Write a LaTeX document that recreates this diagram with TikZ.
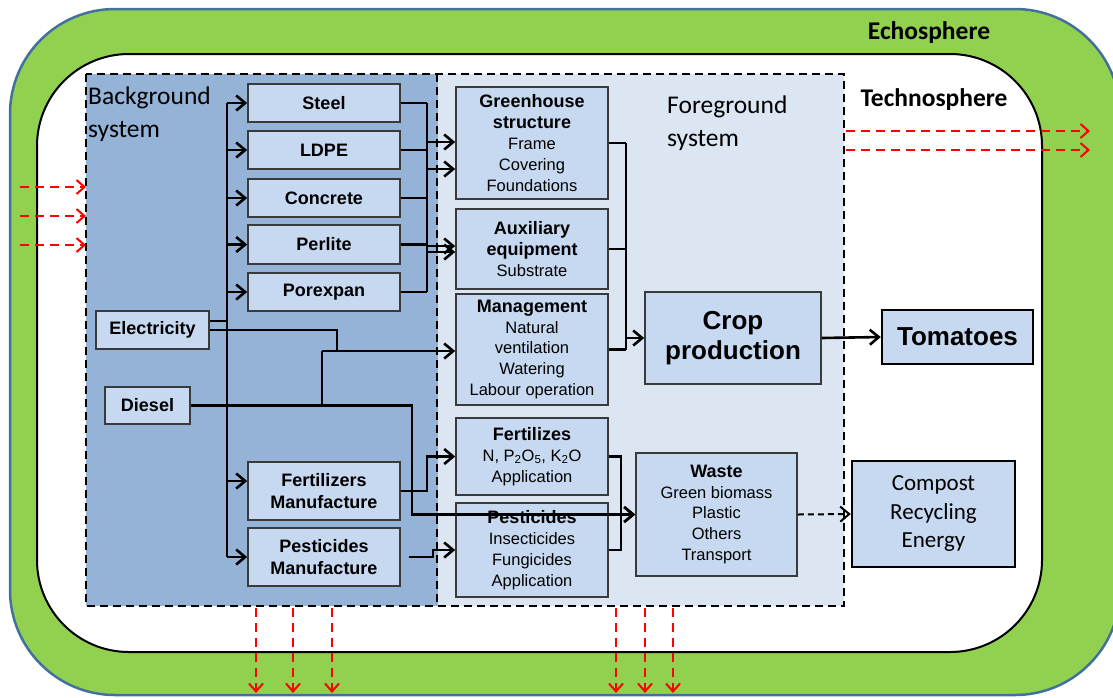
\documentclass[tikz,border=0pt]{standalone}
\usepackage{fontspec}
\setmainfont{Liberation Sans}
\newfontfamily\calibfont{Carlito}
\usetikzlibrary{arrows.meta}
\definecolor{ecogreen}{HTML}{92D050}
\definecolor{ecoedge}{HTML}{41719C}
\definecolor{bgblue}{HTML}{95B3D7}
\definecolor{fgblue}{HTML}{DCE6F2}
\definecolor{boxblue}{HTML}{C6D9F1}
\definecolor{boxedge}{HTML}{3A3A3A}
\newcommand{\hl}[1]{{\fontsize{18}{20.8}\selectfont\bfseries #1}}
\tikzset{
  blk/.style={draw=boxedge, fill=boxblue, line width=1.6pt, align=center, inner sep=0pt,
    font=\fontsize{16.5}{20.8}\selectfont},
  mat/.style={blk, minimum width=152pt, font=\fontsize{18}{21.5}\selectfont\bfseries},
  ln/.style={line width=2.6pt},
  flow/.style={ln, -{Straight Barb[length=9pt,width=15pt]}},
  emis/.style={red, line width=2pt, dash pattern=on 9pt off 6pt, -{Straight Barb[length=8pt,width=14pt]}},
  sysbox/.style={line width=2.4pt, dash pattern=on 8pt off 5pt},
  sphere/.style={font=\calibfont\bfseries\fontsize{25.5}{30}\selectfont}
}
\begin{document}
\begin{tikzpicture}[x=1pt,y=-1pt]
  \useasboundingbox (0,0) rectangle (1113,697);
  % spheres
  \draw[fill=ecogreen, draw=ecoedge, line width=2.5pt, rounded corners=105pt] (10,9) rectangle (1120,695);
  \draw[fill=white, line width=2pt, rounded corners=92pt] (37,54) rectangle (1042,652);
  \node[sphere, anchor=base] (echo) at (929,39) {Echosphere};
  \node[sphere, anchor=base west] (techno) at (857,106) {Technosphere};
  % systems
  \fill[bgblue] (86,74) rectangle (438,606);
  \fill[fgblue] (438,74) rectangle (844,606);
  \draw[sysbox] (86,74) rectangle (844,606);
  \draw[sysbox] (437,74) -- (437,606);
  \node[anchor=north west, align=left, inner sep=0pt, font=\calibfont\fontsize{25.5}{32.5}\selectfont] (bglabel) at (88,87) {Background\\system};
  \node[anchor=north west, align=left, inner sep=0pt, font=\calibfont\fontsize{25.5}{32.5}\selectfont] (fglabel) at (667,96) {Foreground\\system};

  % background processes
  \node[mat, minimum height=38pt] (steel) at (324,103) {Steel};
  \node[mat, minimum height=38pt] (ldpe) at (324,150) {LDPE};
  \node[mat, minimum height=38pt] (concrete) at (324,198) {Concrete};
  \node[mat, minimum height=39pt] (perlite) at (324,244.5) {Perlite};
  \node[mat, minimum height=38pt] (porexpan) at (324,292) {Porexpan};
  \node[mat, minimum width=113pt, minimum height=38pt] (elec) at (152.5,330) {Electricity};
  \node[mat, minimum width=85pt, minimum height=37pt] (diesel) at (147.5,405.5) {Diesel};
  \node[mat, minimum height=58pt] (fertman) at (324,491) {Fertilizers\\Manufacture};
  \node[mat, minimum height=58pt] (pestman) at (324,557) {Pesticides\\Manufacture};

  % foreground processes
  \node[blk, minimum width=152pt, minimum height=112pt] (gh) at (532,143)
    {\hl{Greenhouse}\\\hl{structure}\\Frame\\Covering\\Foundations};
  \node[blk, minimum width=152pt, minimum height=80pt] (aux) at (532,249)
    {\hl{Auxiliary}\\\hl{equipment}\\Substrate};
  \node[blk, minimum width=152pt, minimum height=111pt] (mgmt) at (532,349.5)
    {\hl{Management}\\Natural\\ventilation\\Watering\\Labour operation};
  \node[blk, minimum width=152pt, minimum height=77pt] (fert) at (532,456.5)
    {\hl{Fertilizes}\\N, P\textsubscript{2}O\textsubscript{5}, K\textsubscript{2}O\\Application};
  \node[blk, minimum width=152pt, minimum height=94pt] (pest) at (532,550)
    {\hl{Pesticides}\\Insecticides\\Fungicides\\Application};
  \node[blk, minimum width=176pt, minimum height=92pt, font=\fontsize{26}{30}\selectfont\bfseries] (crop) at (733,338) {Crop\\production};
  \node[blk, minimum width=161pt, minimum height=123pt] (waste) at (716.5,514.5)
    {\hl{Waste}\\Green biomass\\Plastic\\Others\\Transport};
  \node[blk, draw=black, line width=2.4pt, minimum width=151pt, minimum height=54pt, font=\fontsize{26}{30}\selectfont\bfseries] (tom) at (957.5,337) {Tomatoes};
  \node[blk, draw=black, line width=2.4pt, minimum width=163pt, minimum height=106pt, font=\calibfont\fontsize{23}{28.5}\selectfont] (compost) at (933.5,514) {Compost\\Recycling\\Energy};

  \coordinate (busL) at (227,0);
  \coordinate (busR) at (427,0);
  \coordinate (busF) at (626,0);
  \coordinate (busW) at (621,0);
  \coordinate (dw) at (412,0);
  \coordinate (ej) at (337,351);
  \coordinate (dj) at (322,351);

  % energy into background
  \draw[ln] (busL |- steel) -- (busL |- pestman);
  \foreach \n in {steel,ldpe,concrete,perlite,porexpan,pestman}
    \draw[flow] (busL |- \n) -- (\n.west);
  \coordinate (fm) at ([yshift=10pt]fertman.west);
  \draw[flow] (busL |- fm) -- (fm);
  \coordinate (e1) at ([yshift=9pt]elec.east);
  \draw[ln] (e1) -- (e1 -| busL);
  \draw[ln] (elec.east) -| (ej);
  \draw[ln] (diesel.east) -| (dj);
  \draw[flow] (dj) -- (dj -| mgmt.west);
  \draw[flow] (diesel.east) -| (dw |- waste) -- (waste.west);

  % materials into structure
  \foreach \n in {steel,ldpe,concrete,perlite,porexpan}
    \draw[ln] (\n.east) -- (\n.east -| busR);
  \draw[ln] (busR |- steel) -- (busR |- porexpan);
  \coordinate (g1) at ([yshift=1pt]gh.west);
  \coordinate (g2) at ([yshift=-26pt]gh.west);
  \coordinate (a1) at ([yshift=3pt]aux.west);
  \coordinate (a2) at ([yshift=-3pt]aux.west);
  \foreach \c in {g1,g2,a1,a2}
    \draw[flow] (\c -| busR) -- (\c);
  \draw[flow] (fertman.east) -| (busR |- fert) -- (fert.west);
  \coordinate (p1) at ([xshift=8pt]pestman.east);
  \draw[flow] (p1) -- ++(24,0) |- (pest.west);

  % foreground flows
  \foreach \n in {gh,aux,mgmt}
    \draw[ln] (\n.east) -- (\n.east -| busF);
  \draw[ln] (busF |- gh) -- (busF |- mgmt);
  \draw[flow] (busF |- crop) -- (crop.west);
  \draw[ln] (fert.east) -| (busW |- pest.east) -- (pest.east);
  \draw[flow] (busW |- waste) -- (waste.west);
  \draw[flow] (crop.east) -- (tom.west);
  \draw[flow, line width=2pt, dash pattern=on 6pt off 4pt] (waste.east) -- (compost.west);

  % exchanges with the echosphere
  \foreach \y in {187,216,245}
    \draw[emis] (20,\y) -- (86,\y);
  \foreach \y in {131,150}
    \draw[emis] (846,\y) -- (1090,\y);
  \foreach \x in {256,293,332,616,645,673}
    \draw[emis] (\x,608) -- (\x,693);
\end{tikzpicture}
\end{document}
